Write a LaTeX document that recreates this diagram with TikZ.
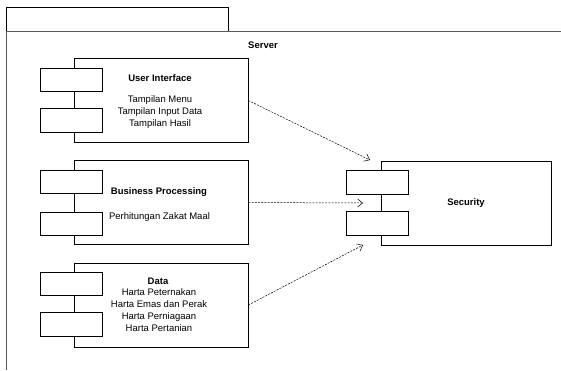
\documentclass[tikz,border=0pt]{standalone}
\usepackage{fontspec}
\setmainfont{Liberation Sans}
\usetikzlibrary{arrows.meta}

\begin{document}
\begin{tikzpicture}[
x=1pt, y=-1pt,
every node/.style={font=\fontsize{9.5}{12}\selectfont, inner sep=0pt},
frame/.style={draw=black!65, line width=1pt},
comp/.style={draw, line width=0.7pt, rectangle, minimum height=84pt},
port/.style={draw, line width=0.7pt, fill=white, rectangle, minimum width=62pt, minimum height=23.5pt},
dep/.style={-{Straight Barb[length=5pt, width=8pt]}, line width=0.5pt, dash pattern=on 2pt off 1.2pt}
]
\useasboundingbox (0,0) rectangle (561,370);

% package frame
\draw[line width=0.7pt] (6,7) rectangle (228,31);
\draw[frame] (561,31) -- (6,31) -- (6,370);
\node[font=\fontsize{9.5}{12}\selectfont\bfseries] (server) at (263,45) {Server};

% components on the left
\node[comp, minimum width=174pt] (ui) at (161,100.5) {};
\node[port] (uiA) at (71,80) {};
\node[port] (uiB) at (71,120.5) {};
\node[font=\fontsize{9.5}{12}\selectfont\bfseries] (uiTitle) at (160,78) {User Interface};
\node[align=center] (uiText) at (160,112) {Tampilan Menu\\Tampilan Input Data\\Tampilan Hasil};

\node[comp, minimum width=174pt] (bp) at (161,202.5) {};
\node[port] (bpA) at (71,182) {};
\node[port] (bpB) at (71,224) {};
\node[font=\fontsize{9.5}{12}\selectfont\bfseries] (bpTitle) at (159,192) {Business Processing};
\node (bpText) at (159.5,217) {Perhitungan Zakat Maal};

\node[comp, minimum width=174pt] (data) at (161,305) {};
\node[port] (dataA) at (71,284) {};
\node[port] (dataB) at (71,324.5) {};
\node[font=\fontsize{9.5}{12}\selectfont\bfseries] (dataTitle) at (158,281) {Data};
\node[align=center] (dataText) at (159,310.5) {Harta Peternakan\\Harta Emas dan Perak\\Harta Perniagaan\\Harta Pertanian};

% security component
\node[comp, minimum width=170pt] (sec) at (466,203) {};
\node[port] (secA) at (377.5,182.5) {};
\node[port] (secB) at (377.5,223.5) {};
\node[font=\fontsize{9.5}{12}\selectfont\bfseries] (secTitle) at (466,203) {Security};

\coordinate (inUi) at (370,160);
\coordinate (inBp) at (363,203);
\coordinate (inData) at (363,245);

\draw[dep] (ui.east) -- (inUi);
\draw[dep] (bp.east) -- (inBp);
\draw[dep] (data.east) -- (inData);
\end{tikzpicture}
\end{document}
